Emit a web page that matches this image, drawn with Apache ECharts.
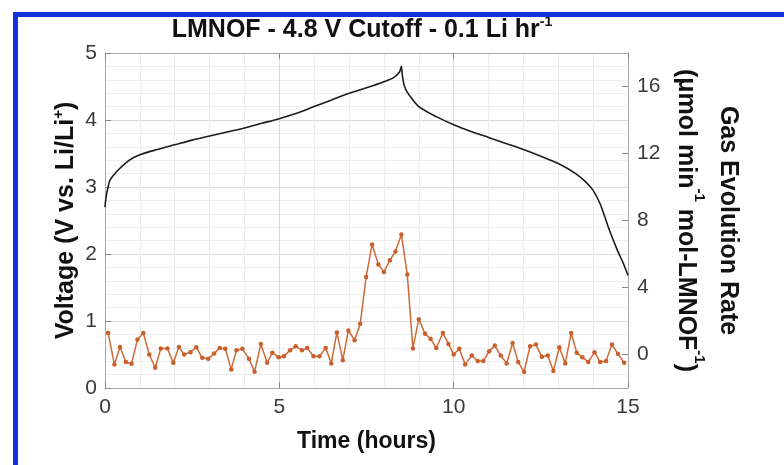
<!DOCTYPE html>
<html>
<head>
<meta charset="utf-8">
<script src="https://cdn.jsdelivr.net/npm/echarts@6/dist/echarts.min.js"></script>
<style>
html,body{margin:0;padding:0;background:#fff;}
#chart{width:784px;height:465px;}
</style>
</head>
<body>
<div id="chart"></div>
<script>
// ---- data ----
const xTicks = [0, 5, 10, 15];
const voltTicks = [0, 1, 2, 3, 4, 5];
const gasTicks = [0, 4, 8, 12, 16];

const voltTime = [0, 0.03, 0.08, 0.14, 0.25, 0.43, 0.7, 1, 1.5, 2, 2.5, 3, 3.5, 4, 4.5, 5, 5.5, 6, 6.5, 7, 7.5, 8, 8.3, 8.45, 8.5, 8.53, 8.58, 8.65, 8.8, 9, 9.5, 10, 10.5, 11, 11.5, 12, 12.5, 13, 13.5, 13.8, 14, 14.2, 14.45, 14.7, 14.85, 15];
const voltage  = [2.7, 2.85, 2.98, 3.1, 3.18, 3.28, 3.4, 3.48, 3.56, 3.63, 3.7, 3.76, 3.82, 3.88, 3.95, 4.02, 4.1, 4.2, 4.3, 4.4, 4.48, 4.57, 4.64, 4.72, 4.8, 4.66, 4.52, 4.43, 4.32, 4.2, 4.05, 3.93, 3.83, 3.74, 3.65, 3.56, 3.46, 3.35, 3.2, 3.07, 2.95, 2.75, 2.38, 2.05, 1.88, 1.68];

const gasTime = [0.09, 0.27, 0.43, 0.6, 0.76, 0.93, 1.1, 1.27, 1.44, 1.6, 1.79, 1.96, 2.12, 2.27, 2.45, 2.62, 2.79, 2.96, 3.13, 3.29, 3.45, 3.62, 3.77, 3.94, 4.13, 4.29, 4.47, 4.65, 4.8, 4.98, 5.13, 5.31, 5.47, 5.65, 5.8, 5.98, 6.15, 6.33, 6.49, 6.65, 6.82, 6.98, 7.16, 7.32, 7.49, 7.66, 7.84, 8.0, 8.17, 8.33, 8.5, 8.67, 8.83, 9.0, 9.18, 9.34, 9.5, 9.69, 9.85, 10.0, 10.16, 10.33, 10.52, 10.69, 10.85, 11.02, 11.18, 11.35, 11.52, 11.69, 11.85, 12.02, 12.19, 12.36, 12.53, 12.7, 12.86, 13.03, 13.2, 13.37, 13.53, 13.69, 13.86, 14.04, 14.2, 14.37, 14.54, 14.71, 14.89];
const gasRate = [1.28, -0.59, 0.45, -0.45, -0.55, 0.89, 1.28, 0, -0.79, 0.36, 0.36, -0.49, 0.45, 0, 0.14, 0.43, -0.2, -0.26, 0.06, 0.39, 0.34, -0.89, 0.26, 0.34, -0.26, -1.03, 0.63, -0.49, 0.1, -0.16, -0.1, 0.26, 0.49, 0.26, 0.39, -0.1, -0.1, 0.39, -0.53, 1.32, -0.34, 1.44, 0.85, 1.83, 4.63, 6.57, 5.38, 4.93, 5.62, 6.15, 7.16, 4.77, 0.36, 2.11, 1.24, 0.93, 0.39, 1.28, 0.63, 0, 0.34, -0.59, -0.06, -0.39, -0.39, 0.2, 0.53, -0.06, -0.53, 0.69, -0.45, -1.04, 0.49, 0.59, -0.14, -0.06, -0.99, 0.43, -0.53, 1.28, 0.1, -0.16, -0.45, 0.14, -0.45, -0.39, 0.59, 0.04, -0.49];

// ---- chart ----
const FONT = '"Liberation Sans", Arial, sans-serif';
const boxColor = '#a8a8a8';
const labelColor = '#3a3a3a';
function sup(size, lh) {
  return {fontSize: size, fontWeight: 'bold', fontFamily: FONT, color: '#111', verticalAlign: 'top', lineHeight: lh};
}
function txt(size, lh) {
  return {fontSize: size, fontWeight: 'bold', fontFamily: FONT, color: '#111', lineHeight: lh};
}

const chart = echarts.init(document.getElementById('chart'), null, {renderer: 'canvas'});
chart.setOption({
  animation: false,
  backgroundColor: '#fff',
  title: {
    text: '{m|LMNOF - 4.8 V Cutoff - 0.1 Li hr}{s|-1}',
    left: 357, top: 10, textAlign: 'center',
    textStyle: {fontFamily: FONT, fontSize: 25, fontWeight: 'bold', color: '#111',
      rich: {m: txt(25, 30), s: sup(14, 20)}}
  },
  graphic: [
    {type: 'rect', shape: {x: 13, y: 12, width: 771, height: 5}, style: {fill: '#1234dc'}, z: 100},
    {type: 'rect', shape: {x: 13, y: 12, width: 5, height: 453}, style: {fill: '#1234dc'}, z: 100}
  ],
  grid: {left: 105, right: 156, top: 53, bottom: 77},
  xAxis: [
    {
      type: 'value', position: 'bottom', min: 0, max: 15, interval: 5,
      name: 'Time (hours)', nameLocation: 'middle', nameGap: 42, nameMoveOverlap: false,
      nameTextStyle: {fontFamily: FONT, fontSize: 23, fontWeight: 'bold', color: '#111'},
      axisLine: {show: true, onZero: false, lineStyle: {color: boxColor, width: 1}},
      axisTick: {show: true, inside: true, length: 6, lineStyle: {color: '#888'}},
      axisLabel: {fontFamily: FONT, fontSize: 21, color: labelColor, margin: 9,
        customValues: xTicks},
      splitLine: {show: true, lineStyle: {color: '#dadada', width: 1}},
      minorTick: {show: false, splitNumber: 5},
      minorSplitLine: {show: true, lineStyle: {color: '#eeeeee', width: 1}}
    },
    {
      type: 'value', position: 'top', min: 0, max: 15, interval: 5,
      axisLine: {show: true, onZero: false, lineStyle: {color: boxColor, width: 1}},
      axisTick: {show: true, inside: true, length: 6, lineStyle: {color: '#888'}},
      axisLabel: {show: false},
      splitLine: {show: false}
    }
  ],
  yAxis: [
    {
      type: 'value', position: 'left', min: 0, max: 5, interval: 1,
      name: '{m|Voltage (V vs. Li/Li}{s|+}{m|)}', nameLocation: 'middle', nameRotate: 90, nameGap: 24,
      nameMoveOverlap: false,
      nameTextStyle: {fontFamily: FONT, fontSize: 25, fontWeight: 'bold', color: '#111', lineHeight: 30,
        rich: {m: txt(25, 30), s: sup(15, 20)}},
      axisLine: {show: true, onZero: false, lineStyle: {color: boxColor, width: 1}},
      axisTick: {show: true, inside: true, length: 6, lineStyle: {color: '#888'}},
      axisLabel: {fontFamily: FONT, fontSize: 21, color: labelColor, margin: 8, customValues: voltTicks},
      splitLine: {show: true, lineStyle: {color: '#dadada', width: 1}},
      minorTick: {show: false, splitNumber: 5},
      minorSplitLine: {show: true, lineStyle: {color: '#eeeeee', width: 1}}
    },
    {
      type: 'value', position: 'right', min: -2, max: 18,
      name: '{m|Gas Evolution Rate}\n{m|(μmol min}{s|-1}{m| mol-LMNOF}{s|-1}{m|)}',
      nameLocation: 'middle', nameRotate: -90, nameGap: 37, nameMoveOverlap: false,
      nameTextStyle: {fontFamily: FONT, fontSize: 25, fontWeight: 'bold', color: '#111', lineHeight: 42, align: 'center',
        rich: {m: txt(25, 42), s: sup(15, 28)}},
      axisLine: {show: true, onZero: false, lineStyle: {color: boxColor, width: 1}},
      axisTick: {show: true, inside: true, length: 6, customValues: gasTicks, lineStyle: {color: '#888'}},
      axisLabel: {fontFamily: FONT, fontSize: 21, color: labelColor, margin: 9, customValues: gasTicks},
      splitLine: {show: false}
    }
  ],
  series: [
    {
      type: 'line', xAxisIndex: 0, yAxisIndex: 0,
      data: voltTime.map((t, i) => [t, voltage[i]]),
      showSymbol: false, smooth: 0.3,
      lineStyle: {color: '#1c1c1c', width: 1.6},
      z: 3
    },
    {
      type: 'line', xAxisIndex: 0, yAxisIndex: 1,
      data: gasTime.map((t, i) => [t, gasRate[i]]),
      symbol: 'circle', symbolSize: 4.5, showSymbol: true,
      itemStyle: {color: '#c9602c'},
      lineStyle: {color: '#cc6a38', width: 1.5},
      z: 2
    }
  ]
});
</script>
</body>
</html>
